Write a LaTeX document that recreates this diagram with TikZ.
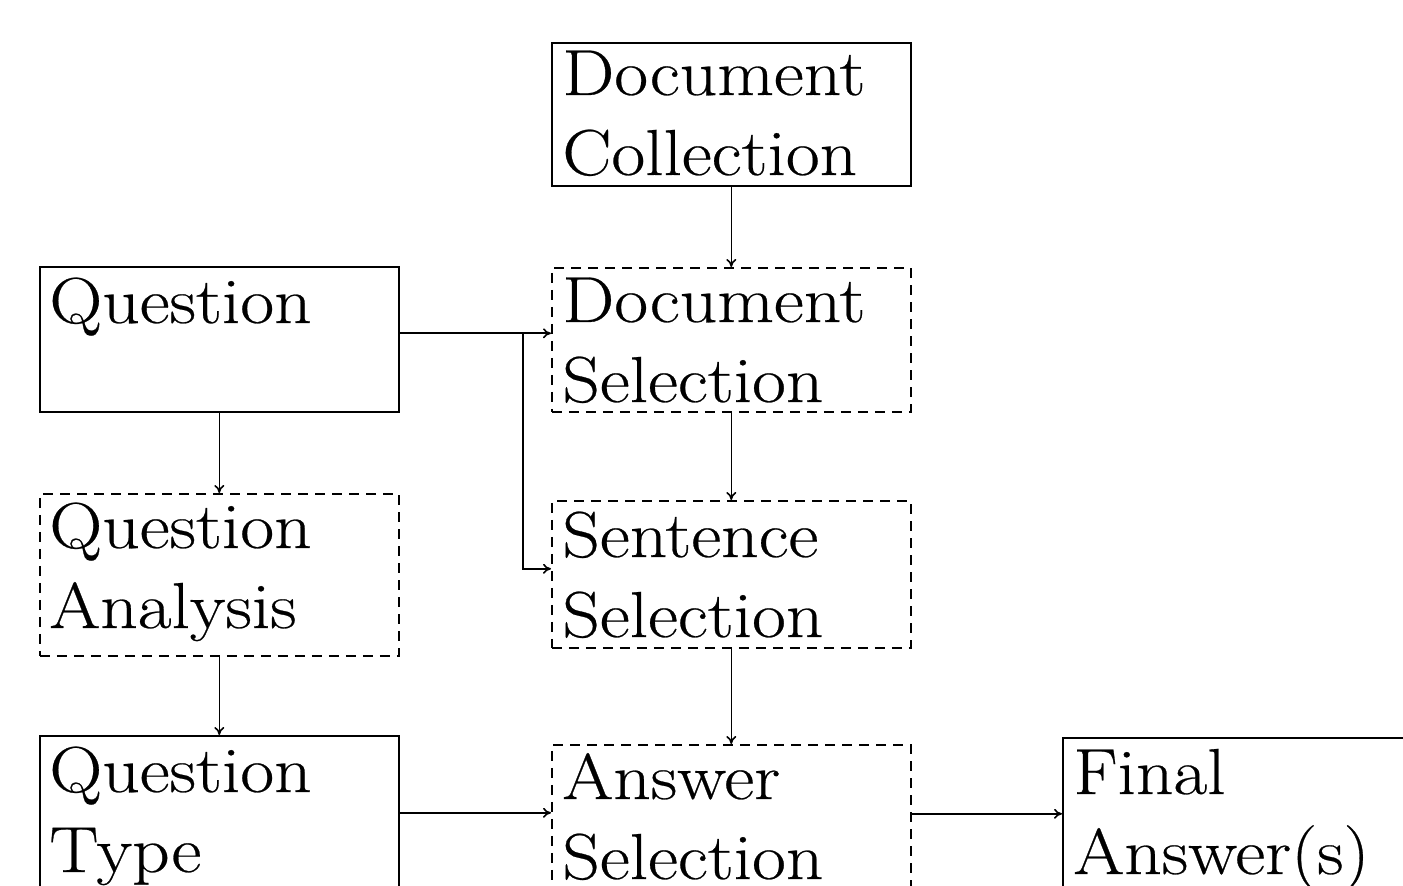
\documentclass[tikz,border=0pt]{standalone}
\usepackage{fontspec}
\setmainfont{Latin Modern Roman}[FakeStretch=1.13,FakeBold=0.4]
\usetikzlibrary{arrows.meta}
\tikzset{
  boxbase/.style={rectangle, draw=black, line width=0.8pt, inner sep=0pt, anchor=north west, minimum width=179.5pt},
  solidbox/.style={boxbase},
  dashbox/.style={boxbase, dash pattern=on 5pt off 3.5pt},
  boxtext/.style={inner sep=0pt, anchor=base west, font=\fontsize{32.5}{40}\selectfont},
  conn/.style={line width=0.8pt, -{To[length=4pt,width=5pt]}},
}
\newcommand{\twolines}[2]{\parbox[t]{175pt}{#1\\#2}}
\begin{document}
\begin{tikzpicture}[x=0.5pt,y=-0.5pt]
\useasboundingbox (0,0) rectangle (1403,886);
\clip (0,0) rectangle (1403,886);
% boxes
\node[solidbox, minimum height=71.5pt] (dc) at (551,42) {};
\node[solidbox, minimum height=72.5pt] (q) at (39,266) {};
\node[dashbox, minimum height=72pt] (ds) at (551,267) {};
\node[dashbox, minimum height=81pt] (qa) at (39,493) {};
\node[dashbox, minimum height=73.5pt] (ss) at (551,500) {};
\node[solidbox, minimum height=80pt] (qt) at (39,735) {};
\node[dashbox, minimum height=80pt] (as) at (551,744) {};
\node[solidbox, minimum height=80pt, minimum width=200pt] (fa) at (1062,737) {};
% texts
\node[boxtext] (tdc) at ([shift={(11,53)}]dc.north west) {\twolines{Document}{Collection}};
\node[boxtext] (tq) at ([shift={(10,57)}]q.north west) {\twolines{Question}{}};
\node[boxtext] (tds) at ([shift={(11,55)}]ds.north west) {\twolines{Document}{Selection}};
\node[boxtext] (tqa) at ([shift={(10,55)}]qa.north west) {\twolines{Question}{Analysis}};
\node[boxtext] (tss) at ([shift={(11,57)}]ss.north west) {\twolines{Sentence}{Selection}};
\node[boxtext] (tqt) at ([shift={(10,57)}]qt.north west) {\twolines{Question}{Type}};
\node[boxtext] (tas) at ([shift={(11,55)}]as.north west) {\twolines{Answer}{Selection}};
\node[boxtext] (tfa) at ([shift={(11,57)}]fa.north west) {\twolines{Final}{Answer(s)}};
% connectors
\draw[conn] (dc.south) -- (ds.north);
\draw[conn] (ds.south) -- (ss.north);
\draw[conn] (ss.south) -- (as.north);
\draw[conn] (q.south) -- (qa.north);
\draw[conn] (qa.south) -- (qt.north);
\coordinate (qe) at ([yshift=3pt]q.east);
\draw[conn] (qe) -- (qe -| ds.west);
\coordinate (jn) at (523,333);
\draw[conn] (jn) |- ([yshift=2.75pt]ss.west);
\coordinate (qte) at ([yshift=1.5pt]qt.east);
\draw[conn] (qte) -- (qte -| as.west);
\coordinate (ase) at ([yshift=5.5pt]as.east);
\draw[conn] (ase) -- (ase -| fa.west);
\end{tikzpicture}
\end{document}
